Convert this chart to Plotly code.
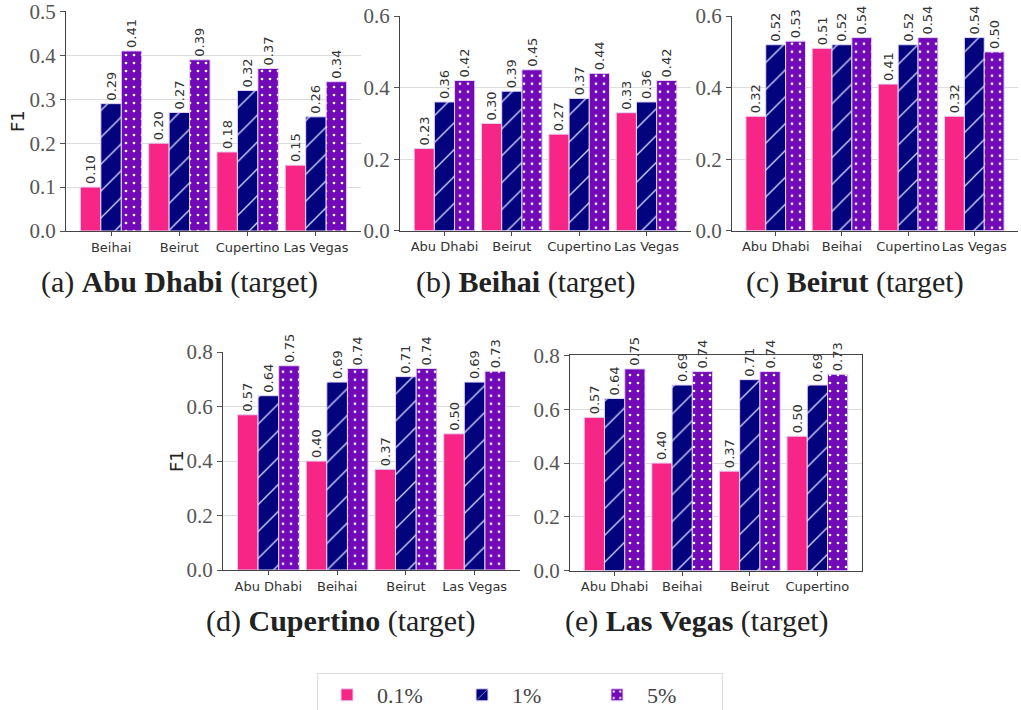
import plotly.graph_objects as go

W, H = 1021, 710

series_names = ["0.1%", "1%", "5%"]

cats_a = ["Beihai", "Beirut", "Cupertino", "Las Vegas"]
a_p01 = [0.10, 0.20, 0.18, 0.15]
a_p1 = [0.29, 0.27, 0.32, 0.26]
a_p5 = [0.41, 0.39, 0.37, 0.34]

cats_b = ["Abu Dhabi", "Beirut", "Cupertino", "Las Vegas"]
b_p01 = [0.23, 0.30, 0.27, 0.33]
b_p1 = [0.36, 0.39, 0.37, 0.36]
b_p5 = [0.42, 0.45, 0.44, 0.42]

cats_c = ["Abu Dhabi", "Beihai", "Cupertino", "Las Vegas"]
c_p01 = [0.32, 0.51, 0.41, 0.32]
c_p1 = [0.52, 0.52, 0.52, 0.54]
c_p5 = [0.53, 0.54, 0.54, 0.50]

cats_d = ["Abu Dhabi", "Beihai", "Beirut", "Las Vegas"]
d_p01 = [0.57, 0.40, 0.37, 0.50]
d_p1 = [0.64, 0.69, 0.71, 0.69]
d_p5 = [0.75, 0.74, 0.74, 0.73]

cats_e = ["Abu Dhabi", "Beihai", "Beirut", "Cupertino"]
e_p01 = [0.57, 0.40, 0.37, 0.50]
e_p1 = [0.64, 0.69, 0.71, 0.69]
e_p5 = [0.75, 0.74, 0.74, 0.73]

captions = [
    "(a) <b>Abu Dhabi</b> (target)",
    "(b) <b>Beihai</b> (target)",
    "(c) <b>Beirut</b> (target)",
    "(d) <b>Cupertino</b> (target)",
    "(e) <b>Las Vegas</b> (target)",
]

# layout (pixel geometry)
panels = [
    dict(cats=cats_a, vals=[a_p01, a_p1, a_p5], x=(66, 361), y=(231, 11), rng=0.5, dt=0.1,
         cap=(179, 282), ylab=(17, 121), frame=False),
    dict(cats=cats_b, vals=[b_p01, b_p1, b_p5], x=(400, 691), y=(230.7, 15.7), rng=0.6, dt=0.2,
         cap=(525, 282), ylab=None, frame=False),
    dict(cats=cats_c, vals=[c_p01, c_p1, c_p5], x=(732, 1018), y=(230.7, 15.7), rng=0.6, dt=0.2,
         cap=(855, 282), ylab=None, frame=False),
    dict(cats=cats_d, vals=[d_p01, d_p1, d_p5], x=(223, 520), y=(570, 351.7), rng=0.8, dt=0.2,
         cap=(340, 621), ylab=(176, 461), frame=False),
    dict(cats=cats_e, vals=[e_p01, e_p1, e_p5], x=(570, 862), y=(570.7, 355), rng=0.8, dt=0.2,
         cap=(697, 621), ylab=None, frame=True),
]

colors = ["#F72585", "#03037D", "#7209B7"]
edge = "#E4D4F4"
patterns = [
    dict(shape=""),
    dict(shape="/", fgcolor="#D8D8FF", bgcolor="#03037D", size=19, solidity=0.07, fillmode="replace"),
    dict(shape=".", fgcolor="#FFFFFF", bgcolor="#7209B7", size=8, solidity=0.09, fillmode="replace"),
]

SERIF = "Liberation Serif"
SANS = "DejaVu Sans"

fig = go.Figure()
layout = dict(
    width=W, height=H,
    margin=dict(l=0, r=0, t=0, b=0, autoexpand=False),
    paper_bgcolor="white", plot_bgcolor="white",
    barmode="group", bargap=0.1, bargroupgap=0.0,
    annotations=[],
)

for i, p in enumerate(panels):
    sfx = "" if i == 0 else str(i + 1)
    for s in range(3):
        fig.add_trace(go.Bar(
            x=p["cats"], y=p["vals"][s], name=series_names[s],
            xaxis="x" + sfx, yaxis="y" + sfx,
            marker=dict(color=colors[s], line=dict(color=edge, width=1), pattern=patterns[s]),
            texttemplate="%{y:.2f}", textposition="outside", textangle=-90,
            textfont=dict(family=SANS, size=13, color="#333333"),
            cliponaxis=False, constraintext="none",
            showlegend=(i == 0), legendgroup=series_names[s],
            hoverinfo="skip",
        ))
    x0, x1 = p["x"]
    yb, yt = p["y"]
    layout["xaxis" + sfx] = dict(
        domain=[x0 / W, x1 / W], anchor="y" + sfx, type="category", automargin=False,
        range=[-0.66, 3.66], showline=True, linecolor="#444444", linewidth=1.2,
        mirror=p["frame"], ticks="outside", ticklen=4, tickcolor="#444444",
        tickfont=dict(family=SANS, size=13, color="#333333"), tickangle=0,
        showgrid=False, zeroline=False, ticklabeloverflow="allow",
    )
    layout["yaxis" + sfx] = dict(
        domain=[1 - yb / H, 1 - yt / H], anchor="x" + sfx, automargin=False,
        range=[0, p["rng"] * 1.002], dtick=p["dt"], tick0=0, tickformat=".1f",
        showgrid=True, gridcolor="#DDDDDD", gridwidth=1,
        showline=True, linecolor="#444444", linewidth=1.2, mirror=p["frame"],
        ticks="outside", ticklen=5, tickcolor="#555555",
        tickfont=dict(family=SERIF, size=21, color="#555555"),
        zeroline=False, ticklabeloverflow="allow",
    )
    cx, cy = p["cap"]
    layout["annotations"].append(dict(
        text=captions[i], x=cx / W, y=1 - cy / H, xref="paper", yref="paper",
        xanchor="center", yanchor="middle", showarrow=False,
        font=dict(family=SERIF, size=30, color="#222222"),
    ))
    if p["ylab"]:
        lx, ly = p["ylab"]
        layout["annotations"].append(dict(
            text="F1", x=lx / W, y=1 - ly / H, xref="paper", yref="paper",
            xanchor="center", yanchor="middle", showarrow=False, textangle=-90,
            font=dict(family=SANS, size=18, color="#222222"),
        ))

layout["legend"] = dict(
    orientation="h", x=317 / W, xanchor="left", y=1 - 673 / H, yanchor="top",
    font=dict(family=SERIF, size=22, color="#444444"),
    bordercolor="#DDDDDD", borderwidth=1, bgcolor="white",
    entrywidth=70, entrywidthmode="pixels", itemwidth=50,
)

fig.update_layout(**layout)
fig.write_html("out.html")
